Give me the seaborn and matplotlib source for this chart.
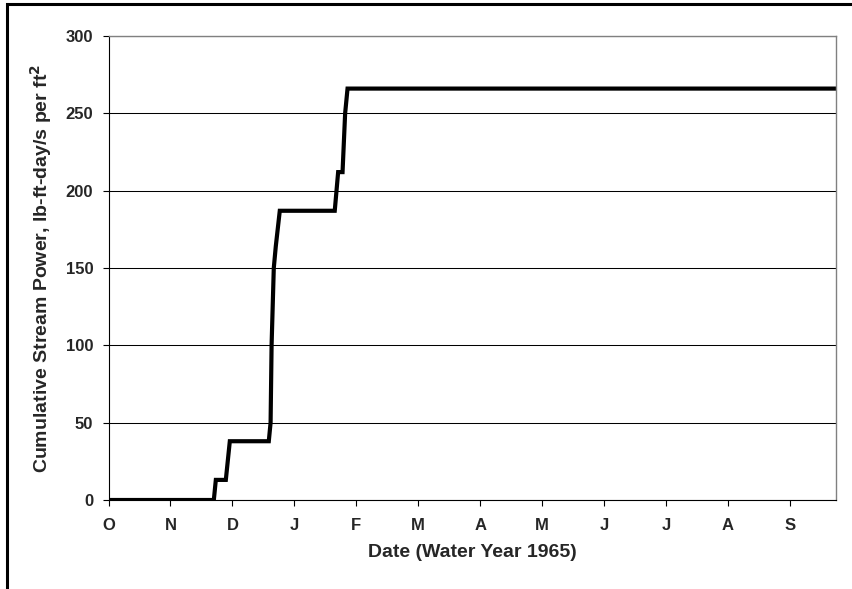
import pandas as pd
import matplotlib.pyplot as plt
import seaborn as sns
from matplotlib.patches import Rectangle

# Cumulative stream power, water year 1965 (day 0 = Oct 1)
day = [0, 52.7, 53.7, 58.7, 60.7, 80.2, 81.1, 81.6, 82.7, 83.7, 85.7,
       113.2, 114.9, 117.1, 118.4, 119.6, 364]
power = [0, 0, 13, 13, 38, 38, 50, 100, 150, 164, 187,
         187, 212, 212, 250, 266, 266]

month_labels = ["O", "N", "D", "J", "F", "M", "A", "M", "J", "J", "A", "S"]
month_ticks = [31 * i for i in range(len(month_labels))]
y_ticks = [0, 50, 100, 150, 200, 250, 300]

df = pd.DataFrame({"day": day, "power": power})

sns.set_style("white")
plt.rcParams["font.family"] = ["Liberation Sans", "DejaVu Sans"]

fig = plt.figure(figsize=(8.52, 5.89), dpi=100)
ax = fig.add_axes([108.5 / 852, 1 - 500 / 589, (836 - 108.5) / 852, (500 - 36) / 589])

sns.lineplot(data=df, x="day", y="power", color="black", linewidth=3,
             sort=False, ax=ax, solid_joinstyle="miter")

ax.set_xlim(0, 364)
ax.set_ylim(0, 300)
ax.set_xticks(month_ticks)
ax.set_xticklabels(month_labels, fontweight="bold", fontsize=12)
ax.set_yticks(y_ticks)
ax.set_yticklabels([str(v) for v in y_ticks], fontweight="bold", fontsize=12)
ax.yaxis.grid(True, color="black", linewidth=0.75)
ax.set_axisbelow(True)

ax.tick_params(axis="both", direction="out", length=4.5, width=0.8, color="black")
ax.tick_params(axis="x", pad=8.5)
ax.tick_params(axis="y", pad=6.5)
ax.xaxis.set_ticks_position("bottom")
ax.yaxis.set_ticks_position("left")

for side in ["left", "bottom"]:
    ax.spines[side].set_color("black")
    ax.spines[side].set_linewidth(0.8)
for side in ["top", "right"]:
    ax.spines[side].set_color("#808080")
    ax.spines[side].set_linewidth(1)

ax.set_xlabel("Date (Water Year 1965)", fontweight="bold", fontsize=14, labelpad=8)
ax.set_ylabel("Cumulative Stream Power, lb-ft-day/s per ft$^\\mathbf{2}$",
              fontweight="bold", fontsize=14, labelpad=8)

# outer frame around the chart
fig.patches.append(Rectangle((6.5 / 852, -0.1), 1.2, 1 - 4 / 589 + 0.1,
                             transform=fig.transFigure, fill=False,
                             edgecolor="black", linewidth=2.2, clip_on=False))

fig.savefig("out.png", dpi=100)
